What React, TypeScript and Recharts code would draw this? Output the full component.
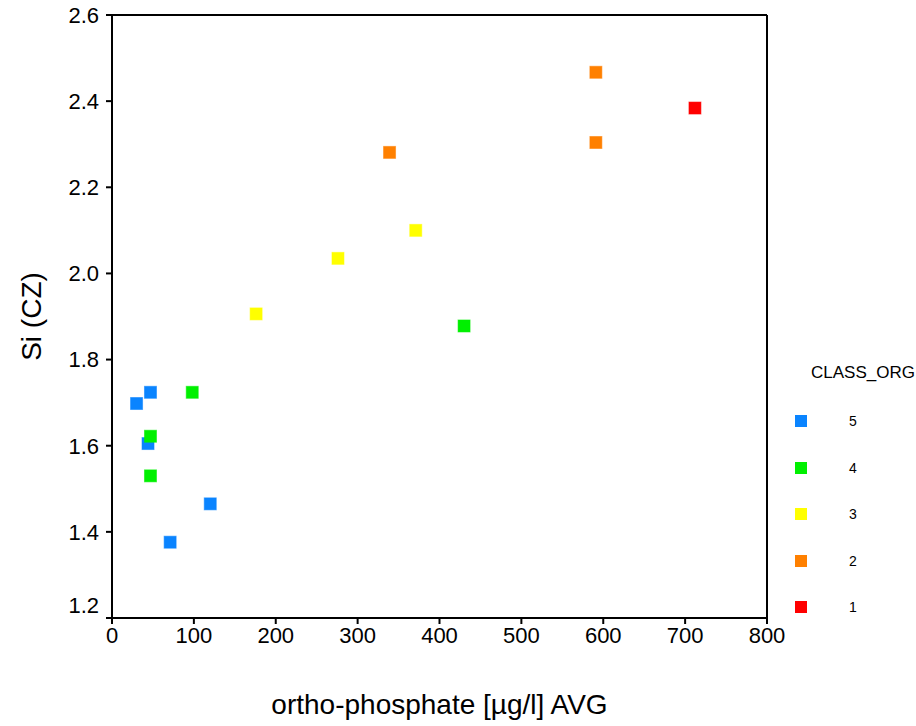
import { ReferenceLine, Scatter, ScatterChart, XAxis, YAxis } from 'recharts';

const classes = ['5', '4', '3', '2', '1'];
const classColors = ['#0a84ff', '#00f000', '#ffff00', '#ff8000', '#ff0000'];

const class5X = [30, 47, 44, 71, 120];
const class5Y = [1.698, 1.724, 1.605, 1.376, 1.465];
const class4X = [47, 98, 47, 430];
const class4Y = [1.622, 1.724, 1.53, 1.878];
const class3X = [176, 276, 371];
const class3Y = [1.906, 2.035, 2.1];
const class2X = [339, 591, 591];
const class2Y = [2.281, 2.467, 2.304];
const class1X = [712];
const class1Y = [2.384];

const xTicks = [0, 100, 200, 300, 400, 500, 600, 700, 800];
const yTicks = [1.2, 1.4, 1.6, 1.8, 2.0, 2.2, 2.4, 2.6];

const seriesX = [class5X, class4X, class3X, class2X, class1X];
const seriesY = [class5Y, class4Y, class3Y, class2Y, class1Y];

const series = classes.map((name, i) => ({
  name,
  color: classColors[i],
  points: seriesX[i].map((x, j) => ({ x, y: seriesY[i][j] })),
}));

const FONT = '"Liberation Sans", Arial, sans-serif';

function squareShape(color: string) {
  return (props: any) => {
    const { cx, cy } = props;
    if (cx == null || cy == null) return <g />;
    return <rect x={cx - 6} y={cy - 6} width={12} height={12} fill={color} stroke={color} strokeOpacity={0.55} strokeWidth={1} />;
  };
}

function YTick(props: any) {
  const { x, y, payload } = props;
  const v = Number(payload.value);
  return (
    <text x={x} y={v === 1.2 ? y - 13 : y} dy="0.355em" textAnchor="end" fontSize={22} fill="#000" fontFamily={FONT}>
      {v.toFixed(1)}
    </text>
  );
}

// legend drawn as an overlay so it doesn't eat into the plot area
function ClassLegend() {
  return (
    <div style={{ position: 'absolute', left: 785, top: 355, width: 131, height: 270, fontFamily: FONT, color: '#000' }}>
      <div style={{ position: 'absolute', left: 26, top: 8, fontSize: 17, lineHeight: '20px', whiteSpace: 'nowrap' }}>CLASS_ORG</div>
      {series.map((s, i) => (
        <div key={s.name}>
          <div
            style={{
              position: 'absolute',
              left: 10,
              top: 60 + i * 46.5,
              width: 12,
              height: 12,
              background: s.color,
            }}
          />
          <div style={{ position: 'absolute', left: 64, top: 58 + i * 46.5, fontSize: 14, lineHeight: '16px' }}>{s.name}</div>
        </div>
      ))}
    </div>
  );
}

export default function App() {
  return (
    <div style={{ position: 'absolute', left: 0, top: 0, width: 916, height: 726, background: '#fff' }}>
      <ScatterChart width={916} height={726} margin={{ top: 15, right: 149, bottom: 0, left: 0 }} style={{ fontFamily: FONT }}>
        <XAxis
          type="number"
          dataKey="x"
          domain={[0, 800]}
          ticks={xTicks}
          allowDataOverflow
          height={108}
          tickSize={6}
          tickMargin={3}
          axisLine={{ stroke: '#000', strokeWidth: 2 }}
          tickLine={{ stroke: '#000', strokeWidth: 2 }}
          tick={{ fill: '#000', fontSize: 22, fontFamily: FONT }}
          label={{ value: 'ortho-phosphate [µg/l] AVG', position: 'insideBottom', offset: 12, fill: '#000', fontSize: 28, fontFamily: FONT }}
        />
        <YAxis
          type="number"
          dataKey="y"
          domain={[1.2, 2.6]}
          ticks={yTicks}
          allowDataOverflow
          width={112}
          tickSize={6}
          tickMargin={7}
          axisLine={{ stroke: '#000', strokeWidth: 2 }}
          tickLine={{ stroke: '#000', strokeWidth: 2 }}
          tick={<YTick />}
          label={{ value: 'Si (CZ)', angle: -90, position: 'insideLeft', offset: 31, fill: '#000', fontSize: 28, fontFamily: FONT, style: { textAnchor: 'middle' } }}
        />
        <ReferenceLine y={2.6} stroke="#000" strokeWidth={2} />
        <ReferenceLine x={800} stroke="#000" strokeWidth={2} />
        {series.map(s => (
          <Scatter key={s.name} name={s.name} data={s.points} fill={s.color} shape={squareShape(s.color)} isAnimationActive={false} />
        ))}
      </ScatterChart>
      <ClassLegend />
    </div>
  );
}
